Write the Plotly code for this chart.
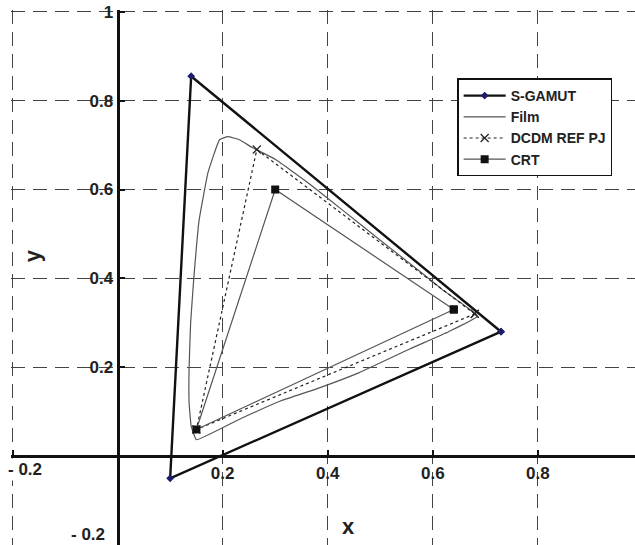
import plotly.graph_objects as go

# chromaticity primaries (x, y), closed triangles
sgamut_x = [0.73, 0.14, 0.10, 0.73]
sgamut_y = [0.28, 0.855, -0.05, 0.28]

dcdm_x = [0.68, 0.265, 0.15, 0.68]
dcdm_y = [0.32, 0.69, 0.06, 0.32]

crt_x = [0.64, 0.30, 0.15, 0.64]
crt_y = [0.33, 0.60, 0.06, 0.33]

# film gamut boundary
film_x = [0.685, 0.62, 0.575, 0.50, 0.43, 0.366, 0.30, 0.257, 0.232, 0.21, 0.194,
          0.172, 0.155, 0.145, 0.139, 0.136, 0.136, 0.14, 0.150, 0.23, 0.31, 0.38,
          0.46, 0.556, 0.63, 0.685]
film_y = [0.315, 0.373, 0.416, 0.486, 0.552, 0.612, 0.668, 0.694, 0.712, 0.719, 0.712,
          0.638, 0.53, 0.40, 0.30, 0.196, 0.122, 0.068, 0.037, 0.082, 0.124, 0.152,
          0.188, 0.241, 0.28, 0.315]

x_ticks = [0.2, 0.4, 0.6, 0.8]
y_ticks = [0.2, 0.4, 0.6, 0.8, 1.0]
y_ticktext = ["0.2", "0.4", "0.6", "0.8", "1"]

FONT = "Liberation Sans, Arial, sans-serif"

fig = go.Figure()
fig.add_trace(go.Scatter(x=sgamut_x, y=sgamut_y, name="S-GAMUT", mode="lines+markers",
                         line=dict(color="#111111", width=2.4),
                         marker=dict(symbol="diamond", size=6, color="#1c1c6a")))
fig.add_trace(go.Scatter(x=film_x, y=film_y, name="Film", mode="lines",
                         line=dict(color="#555555", width=1.2, shape="spline", smoothing=0.3)))
fig.add_trace(go.Scatter(x=dcdm_x, y=dcdm_y, name="DCDM REF PJ", mode="lines+markers",
                         line=dict(color="#222222", width=1.2, dash="3px,3px"),
                         marker=dict(symbol="x-thin-open", size=8,
                                     line=dict(color="#333333", width=1.2))))
fig.add_trace(go.Scatter(x=crt_x, y=crt_y, name="CRT", mode="lines+markers",
                         line=dict(color="#555555", width=1.2),
                         marker=dict(symbol="square", size=8, color="#111111")))

grid = dict(showgrid=True, gridcolor="#444444", gridwidth=1, griddash="14px,8px",
            zeroline=False, showline=True, linecolor="#111111", linewidth=3,
            ticks="inside", ticklen=5, tickwidth=2, tickcolor="#111111",
            automargin=False,
            tickfont=dict(family=FONT, size=17, color="#222222", weight="bold"))

# ranges padded a hair so the -0.2 and 1.0 grid lines stay inside the plot area
x_lo, x_hi = -0.203, 0.985
y_lo, y_hi = -0.2, 1.004
fig.update_xaxes(range=[x_lo, x_hi], tickvals=[-0.2] + x_ticks,
                 ticktext=[""] + [str(v) for v in x_ticks],
                 anchor="free", position=(0 - y_lo) / (y_hi - y_lo), **grid)
fig.update_yaxes(range=[y_lo, y_hi], tickvals=[-0.2] + y_ticks,
                 ticktext=[""] + y_ticktext,
                 anchor="free", position=(0 - x_lo) / (x_hi - x_lo),
                 ticklabelstandoff=0, **grid)

lbl = dict(family=FONT, size=17, color="#222222", weight="bold")
fig.add_annotation(x=-0.2, y=0, xref="x", yref="y", text="- 0.2", showarrow=False,
                   xanchor="left", yanchor="top", xshift=-7, yshift=-2, font=lbl,
                   bgcolor="white")
fig.add_annotation(x=0, y=-0.2, xref="x", yref="y", text="- 0.2", showarrow=False,
                   xanchor="right", yanchor="bottom", xshift=-11, yshift=-1, font=lbl)
fig.add_annotation(x=0.44, y=-0.2, xref="x", yref="y", text="x", showarrow=False,
                   yanchor="bottom", yshift=4, font=dict(family=FONT, size=22,
                                                         color="#222222", weight="bold"))
fig.add_annotation(x=-0.163, y=0.45, xref="x", yref="y", text="y", showarrow=False,
                   textangle=-90, font=dict(family=FONT, size=22, color="#222222",
                                            weight="bold"))

fig.update_layout(
    width=635, height=545,
    margin=dict(l=11, r=0, t=10, b=0, autoexpand=False),
    plot_bgcolor="white", paper_bgcolor="white",
    legend=dict(x=0.715, y=0.872, xanchor="left", yanchor="top",
                bgcolor="white", bordercolor="#111111", borderwidth=1.5,
                font=dict(family=FONT, size=14, color="#222222", weight="bold"),
                itemwidth=42, tracegroupgap=0),
)

# page body has a default 8px margin, drop it so the figure sits at 0,0
fig.write_html("out.html", config={"displayModeBar": False},
               post_script="document.body.style.margin='0';")
